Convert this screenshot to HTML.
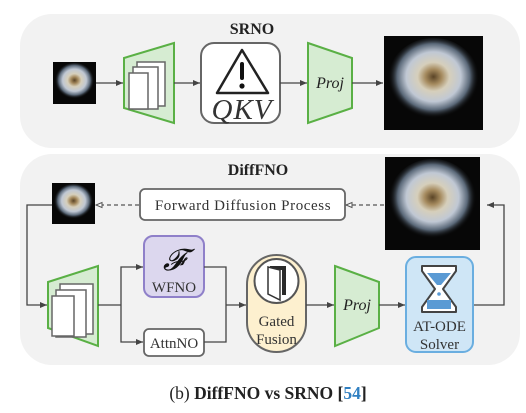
<!DOCTYPE html>
<html><head><meta charset="utf-8"><style>
html,body{margin:0;padding:0;background:#fff}
svg{display:block}
text{font-family:"Liberation Serif",serif}
</style></head><body>
<svg width="526" height="413" viewBox="0 0 526 413">
<defs>
<radialGradient id="rg" cx="0.5" cy="0.47" r="0.5">
<stop offset="0" stop-color="#5a4426"/>
<stop offset="0.18" stop-color="#a58a5e"/>
<stop offset="0.35" stop-color="#d6cfbb"/>
<stop offset="0.6" stop-color="#c0c8d4"/>
<stop offset="0.8" stop-color="#5a6878"/>
<stop offset="1" stop-color="#080808" stop-opacity="0"/>
</radialGradient>
<symbol id="rose" viewBox="0 0 100 100" preserveAspectRatio="none">
<rect width="100" height="100" fill="#070707"/>
<ellipse cx="50" cy="46" rx="46" ry="44" fill="url(#rg)"/>
</symbol>
<marker id="ar" markerWidth="8" markerHeight="8" refX="7" refY="4" orient="auto" markerUnits="userSpaceOnUse"><path d="M0,1 L7,4 L0,7 Z" fill="#444"/></marker>
<marker id="ao" markerWidth="8" markerHeight="8" refX="7" refY="4" orient="auto" markerUnits="userSpaceOnUse"><path d="M1,1.5 L7,4 L1,6.5 Z" fill="#fff" stroke="#555" stroke-width="1"/></marker>
</defs>

<rect x="20" y="14" width="500" height="134" rx="32" fill="#f2f2f2"/>
<text x="252" y="34" font-size="16" font-weight="bold" text-anchor="middle" fill="#222">SRNO</text>
<use href="#rose" x="53" y="62" width="43" height="42"/>
<line x1="96" y1="83" x2="123" y2="83" stroke="#444" stroke-width="1.3" marker-end="url(#ar)"/>
<polygon points="124,58 174,43 174,123 124,108" fill="#d6ecd2" stroke="#5ab045" stroke-width="2"/>
<g fill="#fff" stroke="#666" stroke-width="1.5">
<rect x="137" y="62" width="28" height="44"/><rect x="133" y="67" width="25" height="42"/><rect x="129" y="73" width="19" height="36"/>
</g>
<line x1="174" y1="83" x2="200" y2="83" stroke="#444" stroke-width="1.3" marker-end="url(#ar)"/>
<rect x="201" y="43" width="79" height="80" rx="13" fill="#fff" stroke="#666" stroke-width="2"/>
<polygon points="242,50 268,93 217,93" fill="#fff" stroke="#222" stroke-width="2.5" stroke-linejoin="round"/>
<rect x="240" y="62" width="4" height="18" rx="2" fill="#111"/><circle cx="242" cy="86" r="2.6" fill="#111"/>
<text x="242" y="119" font-size="29" font-style="italic" text-anchor="middle" fill="#333" letter-spacing="1">QKV</text>
<line x1="280" y1="83" x2="307" y2="83" stroke="#444" stroke-width="1.3" marker-end="url(#ar)"/>
<polygon points="308,43 352,58 352,108 308,123" fill="#d6ecd2" stroke="#5ab045" stroke-width="2"/>
<text x="330" y="88" font-size="16" font-style="italic" text-anchor="middle" fill="#222">Proj</text>
<line x1="352" y1="83" x2="383" y2="83" stroke="#444" stroke-width="1.3" marker-end="url(#ar)"/>
<use href="#rose" x="384" y="36" width="99" height="94"/>

<rect x="20" y="154" width="500" height="211" rx="32" fill="#f2f2f2"/>
<text x="258" y="175" font-size="16" font-weight="bold" text-anchor="middle" fill="#222">DiffFNO</text>
<use href="#rose" x="52" y="183" width="43" height="41"/>
<rect x="140" y="189" width="205" height="31" rx="5" fill="#fff" stroke="#666" stroke-width="1.8"/>
<text x="243" y="210" font-size="15" text-anchor="middle" fill="#333" letter-spacing="0.6">Forward Diffusion Process</text>
<line x1="139" y1="205" x2="96" y2="205" stroke="#555" stroke-width="1.3" stroke-dasharray="4,3" marker-end="url(#ao)"/>
<line x1="384" y1="205" x2="346" y2="205" stroke="#555" stroke-width="1.3" stroke-dasharray="4,3" marker-end="url(#ao)"/>
<use href="#rose" x="385" y="157" width="95" height="93"/>
<polyline points="52,205 27,205 27,305 47,305" fill="none" stroke="#444" stroke-width="1.3" marker-end="url(#ar)"/>
<polyline points="473,305 504,305 504,205 487,205" fill="none" stroke="#444" stroke-width="1.3" marker-end="url(#ar)"/>
<polygon points="48,282 98,266 98,346 48,328" fill="#d6ecd2" stroke="#5ab045" stroke-width="2"/>
<g fill="#fff" stroke="#666" stroke-width="1.5">
<rect x="60" y="284" width="33" height="50"/><rect x="56" y="290" width="30" height="47"/><rect x="52" y="296" width="22" height="40"/>
</g>
<line x1="98" y1="305" x2="121" y2="305" stroke="#444" stroke-width="1.3"/>
<polyline points="121,305 121,267 143,267" fill="none" stroke="#444" stroke-width="1.3" marker-end="url(#ar)"/>
<polyline points="121,305 121,342 143,342" fill="none" stroke="#444" stroke-width="1.3" marker-end="url(#ar)"/>
<rect x="144" y="236" width="60" height="61" rx="9" fill="#dcd7ee" stroke="#8f80c9" stroke-width="2"/>
<text x="174" y="270" font-size="30" font-style="italic" text-anchor="middle" fill="#111">𝓕</text>
<text x="174" y="292" font-size="15" text-anchor="middle" fill="#333">WFNO</text>
<rect x="144" y="329" width="60" height="27" rx="5" fill="#fff" stroke="#666" stroke-width="1.8"/>
<text x="174" y="348" font-size="15" text-anchor="middle" fill="#333">AttnNO</text>
<polyline points="204,267 226,267 226,342 204,342" fill="none" stroke="#444" stroke-width="1.3"/>
<line x1="226" y1="305" x2="246" y2="305" stroke="#444" stroke-width="1.3" marker-end="url(#ar)"/>
<rect x="247" y="255" width="59" height="97" rx="29.5" fill="#fdf0cf" stroke="#666" stroke-width="2"/>
<circle cx="276.5" cy="281" r="22" fill="#fff" stroke="#555" stroke-width="2"/>
<polygon points="270,266 286,266 286,295 282,295 282,270 270,270" fill="#2a2a2a"/>
<polygon points="268,267 280,270 280,300 268,294" fill="#fff" stroke="#333" stroke-width="1.5"/>
<text x="276.5" y="326" font-size="15" text-anchor="middle" fill="#333">Gated</text>
<text x="276.5" y="344" font-size="15" text-anchor="middle" fill="#333">Fusion</text>
<line x1="306" y1="305" x2="334" y2="305" stroke="#444" stroke-width="1.3" marker-end="url(#ar)"/>
<polygon points="335,266 379,282 379,328 335,346" fill="#d6ecd2" stroke="#5ab045" stroke-width="2"/>
<text x="357" y="310" font-size="16" font-style="italic" text-anchor="middle" fill="#222">Proj</text>
<line x1="379" y1="305" x2="405" y2="305" stroke="#444" stroke-width="1.3" marker-end="url(#ar)"/>
<rect x="406" y="257" width="67" height="95" rx="10" fill="#cfe6f6" stroke="#6aaee0" stroke-width="2"/>
<path d="M422,266 L456,266 L456,271 L443,289 L456,307 L456,312 L422,312 L422,307 L435,289 L422,271 Z" fill="#fff" stroke="#444" stroke-width="2" stroke-linejoin="round"/>
<polygon points="427,273 451,273 441,285 437,285" fill="#5a9ad4"/>
<rect x="427" y="300" width="24" height="9" fill="#5a9ad4"/>
<circle cx="439" cy="294" r="1.8" fill="#5a9ad4"/>
<text x="439.5" y="331" font-size="15" text-anchor="middle" fill="#333">AT-ODE</text>
<text x="439.5" y="349" font-size="15" text-anchor="middle" fill="#333">Solver</text>

<text x="268" y="399" font-size="17.5" text-anchor="middle" fill="#222">(b) <tspan font-weight="bold">DiffFNO vs SRNO [</tspan><tspan font-weight="bold" fill="#2f7fc1">54</tspan><tspan font-weight="bold">]</tspan></text>
</svg>
</body></html>
